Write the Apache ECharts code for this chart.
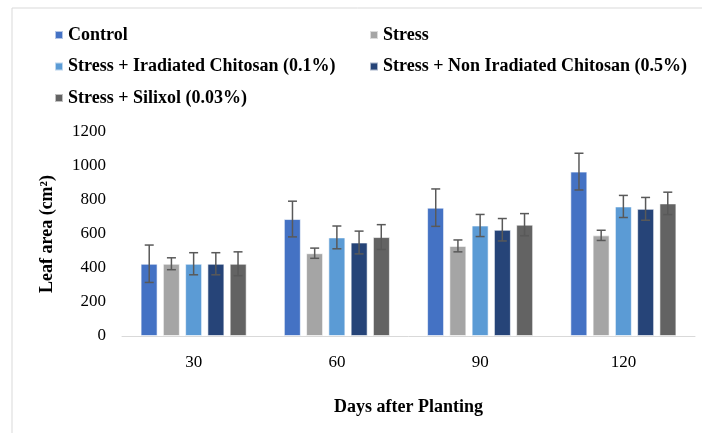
<!DOCTYPE html>
<html>
<head>
<meta charset="utf-8">
<script src="https://cdn.jsdelivr.net/npm/echarts@6/dist/echarts.min.js"></script>
<style>
  html, body { margin: 0; padding: 0; background: #fff; }
  #chart { width: 702px; height: 433px; }
</style>
</head>
<body>
<div id="chart"></div>
<script>
// days after planting
const days = ['30', '60', '90', '120'];
const seriesNames = [
  'Control',
  'Stress',
  'Stress + Iradiated Chitosan (0.1%)',
  'Stress + Non Iradiated Chitosan (0.5%)',
  'Stress + Silixol (0.03%)'
];
// leaf area (cm2)
const control = [425, 688, 755, 967];
const stress = [425, 487, 530, 592];
const irradiated = [425, 580, 650, 762];
const nonIrradiated = [425, 550, 625, 748];
const silixol = [425, 582, 655, 780];
// error bar half lengths
const controlErr = [110, 105, 110, 108];
const stressErr = [35, 30, 35, 30];
const irradiatedErr = [65, 67, 65, 65];
const nonIrradiatedErr = [65, 67, 66, 67];
const silixolErr = [70, 73, 65, 66];

const yTicks = [0, 200, 400, 600, 800, 1000, 1200];

const colors = ['#4472C4', '#A5A5A5', '#5B9BD5', '#264478', '#636363'];
const values = [control, stress, irradiated, nonIrradiated, silixol];
const errors = [controlErr, stressErr, irradiatedErr, nonIrradiatedErr, silixolErr];

const fontFam = "'Liberation Serif', 'Times New Roman', serif";
const barW = 17;
const barStep = 22.2;

const chart = echarts.init(document.getElementById('chart'), null, { renderer: 'canvas' });

function errorSeries(idx) {
  const offset = (idx - 2) * barStep;
  return {
    type: 'custom',
    name: seriesNames[idx] + ' err',
    z: 5,
    silent: true,
    data: days.map((d, i) => [i, values[idx][i], errors[idx][i]]),
    renderItem: function (params, api) {
      const x = api.coord([api.value(0), 0])[0] + offset;
      const top = api.coord([api.value(0), api.value(1) + api.value(2)])[1];
      const bot = api.coord([api.value(0), api.value(1) - api.value(2)])[1];
      const half = 4.5;
      const style = { stroke: '#595959', lineWidth: 1.5 };
      return {
        type: 'group',
        children: [
          { type: 'line', shape: { x1: x, y1: top, x2: x, y2: bot }, style: style },
          { type: 'line', shape: { x1: x - half, y1: top, x2: x + half, y2: top }, style: style },
          { type: 'line', shape: { x1: x - half, y1: bot, x2: x + half, y2: bot }, style: style }
        ]
      };
    }
  };
}

const legendText = { fontFamily: fontFam, fontWeight: 'bold', fontSize: 18, color: '#000', lineHeight: 18 };

const option = {
  animation: false,
  color: colors,
  graphic: [{
    type: 'rect',
    shape: { x: 12, y: 8, width: 720, height: 460 },
    style: { fill: 'none', stroke: '#d9d9d9', lineWidth: 1 },
    silent: true
  }],
  legend: [
    {
      orient: 'vertical',
      left: 54, top: 26, padding: 0,
      itemWidth: 8, itemHeight: 8, itemGap: 13.5,
      icon: 'rect',
      data: [seriesNames[0], seriesNames[2], seriesNames[4]],
      textStyle: legendText
    },
    {
      orient: 'vertical',
      left: 369, top: 26, padding: 0,
      itemWidth: 8, itemHeight: 8, itemGap: 13.5,
      icon: 'rect',
      data: [seriesNames[1], seriesNames[3]],
      textStyle: legendText
    }
  ],
  grid: { left: 122, right: 7, top: 132, bottom: 97, containLabel: false },
  xAxis: {
    type: 'category',
    data: days,
    name: 'Days after Planting',
    nameLocation: 'middle',
    nameGap: 62,
    nameTextStyle: { fontFamily: fontFam, fontWeight: 'bold', fontSize: 18, color: '#000' },
    axisLine: { lineStyle: { color: '#d9d9d9', width: 1 } },
    axisTick: { show: false },
    axisLabel: { margin: 18, fontFamily: fontFam, fontSize: 17, color: '#000' }
  },
  yAxis: {
    type: 'value',
    min: yTicks[0],
    max: yTicks[yTicks.length - 1],
    interval: 200,
    name: 'Leaf area (cm²)',
    nameLocation: 'middle',
    nameRotate: 90,
    nameGap: 66,
    nameTextStyle: { fontFamily: fontFam, fontWeight: 'bold', fontSize: 18, color: '#000' },
    axisLine: { show: false },
    axisTick: { show: false },
    splitLine: { show: false },
    axisLabel: {
      margin: 16, fontFamily: fontFam, fontSize: 17, color: '#000',
      formatter: v => String(v)
    }
  },
  series: seriesNames.map((name, idx) => ({
    type: 'bar',
    name: name,
    data: values[idx],
    barWidth: barW,
    barGap: '31%',
    itemStyle: { color: colors[idx], borderColor: 'rgba(255,255,255,0.6)', borderWidth: 1 }
  })).concat(seriesNames.map((n, idx) => errorSeries(idx)))
};

chart.setOption(option);
</script>
</body>
</html>
